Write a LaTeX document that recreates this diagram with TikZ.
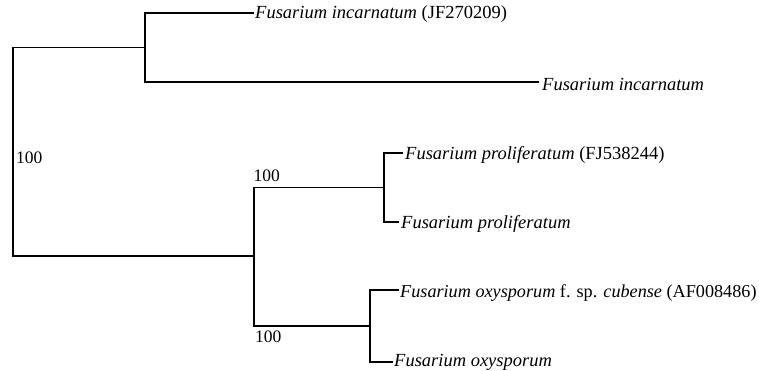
\documentclass[tikz,border=0pt]{standalone}
\usepackage{fontspec}
\setmainfont{Liberation Serif}
\begin{document}
\begin{tikzpicture}[x=1pt,y=-1pt,
  branch/.style={line width=1.8pt,line cap=rect},
  leaf/.style={anchor=base west,inner sep=0pt,font=\fontsize{18.5}{22}\selectfont},
  boot/.style={anchor=base west,inner sep=0pt,font=\fontsize{17.5}{21}\selectfont}]
\useasboundingbox (0,0) rectangle (759,371);
% internal nodes
\coordinate (root) at (13,151.5);
\coordinate (A) at (145,47.5);
\coordinate (B) at (254,256);
\coordinate (C) at (384,187.5);
\coordinate (D) at (370,326);
% leaf tips
\coordinate (t1) at (253,13);
\coordinate (t2) at (538,82);
\coordinate (t3) at (402,153);
\coordinate (t4) at (398,222);
\coordinate (t5) at (398,290);
\coordinate (t6) at (392,362);
% labels
\node[leaf] (l1) at (255,18.5) {\textit{Fusarium incarnatum} (JF270209)};
\node[leaf] (l2) at (542,90.5) {\textit{Fusarium incarnatum}};
\node[leaf] (l3) at (405,159.5) {\textit{Fusarium proliferatum} (FJ538244)};
\node[leaf] (l4) at (401,229) {\textit{Fusarium proliferatum}};
\node[leaf,font=\fontsize{18.2}{22}\selectfont] (l5) at (400,297) {\textit{Fusarium oxysporum} f. sp. \textit{cubense} (AF008486)};
\node[leaf] (l6) at (394,366) {\textit{Fusarium oxysporum}};
% bootstrap values
\node[boot] (b1) at (16,163.5) {100};
\node[boot] (b2) at (253.5,182) {100};
\node[boot] (b3) at (255,342.5) {100};
% branches
\draw[branch] (root) |- (A);
\draw[branch] (root) |- (B);
\draw[branch] (A) |- (t1);
\draw[branch] (A) |- (t2);
\draw[branch] (B) |- (C);
\draw[branch] (B) |- (D);
\draw[branch] (C) |- (t3);
\draw[branch] (C) |- (t4);
\draw[branch] (D) |- (t5);
\draw[branch] (D) |- (t6);
\end{tikzpicture}
\end{document}
